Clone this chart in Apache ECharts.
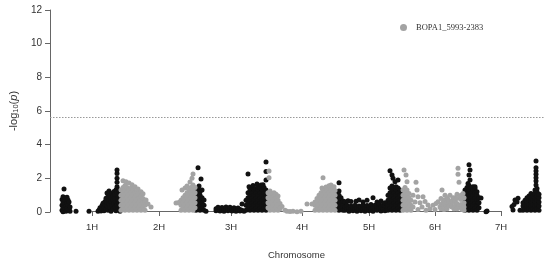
<!DOCTYPE html>
<html>
<head>
<meta charset="UTF-8">
<title>Manhattan plot</title>
<script src="https://cdn.jsdelivr.net/npm/echarts@6/dist/echarts.min.js"></script>
<style>
  html, body { margin: 0; padding: 0; background: #fff; }
  #main { width: 550px; height: 265px; }
</style>
</head>
<body>
<div id="main"></div>
<script>
// cumulative genome position of each chromosome tick
var chrTicks = [42, 109, 181, 252, 319, 385, 451];
var chrNames = ['1H', '2H', '3H', '4H', '5H', '6H', '7H'];
var threshold = 5.6;
var markerName = 'BOPA1_5993-2383';

// each row: [position, -log10(p) values at that position...]
var blackCols = [
  [12,0.1,0.4,0.75],[13,0.02,0.25,0.55,0.9],[14,0.08,0.38,0.7,1.37],[15,0.2,0.5,0.85],
  [16,0.05,0.35,0.68],[17,0.22,0.52,0.88],[18,0.1,0.42,0.72],[19,0.15,0.6],[20,0.05,0.3],
  [26,0.05],[39,0.05],
  [48,0.04],[49,0.12],[50,0.25],[51,0.06],[52,0.18,0.38],[53,0.52],[54,0.08,0.3],[55,0.44,0.62],
  [56,0.2,0.82],[57,0.36,0.58,1.13],[58,0.1,0.92],[59,0.48,0.74,1.25],[60,0.26,1.02],
  [61,0.05,0.6,0.86],[62,0.4,1.12],[63,0.18,0.7,0.95],[64,0.52,1.22],[65,0.3,0.82,1.05],
  [66,0.08,0.62,1.32],[67,0.42,1.18,1.5,1.76,2.0,2.28,2.5],[68,0.2,0.74,0.98],[69,0.55,1.3],
  [70,0.04,0.32,0.86,1.1],
  [146,0.1,0.4,0.7,1.0,1.25],[148,0.25,0.55,0.85,1.15,1.38,2.63],[149,1.55],[150,0.1,0.4,0.7,1.0,1.2],
  [151,1.96],[152,0.25,0.55,0.85,1.3],[154,0.1,0.4,0.71],[156,0.05],
  [166,0.08,0.2],[168,0.15,0.28],[170,0.06,0.22],[172,0.12,0.26],[174,0.05,0.2],[176,0.14,0.3],
  [178,0.08,0.22],[180,0.16,0.28],[182,0.06,0.2],[184,0.12,0.25],[186,0.05,0.18],[188,0.1,0.24],
  [190,0.06,0.15],[192,0.1,0.47],[194,0.05],
  [196,0.1,0.4,0.7],[198,0.25,0.55,0.85,1.15,2.26],[199,1.5],[200,0.1,0.4,0.7,1.0,1.3],
  [202,0.25,0.55,0.85,1.15,1.42],[203,1.58],[204,0.1,0.4,0.7,1.0,1.3],[206,0.25,0.55,0.85,1.15,1.4],
  [207,1.66],[208,0.1,0.4,0.7,1.0,1.3,1.5],[210,0.25,0.55,0.85,1.15,1.42],[211,1.6],
  [212,0.1,0.4,0.7,1.0,1.3],[213,1.62],[214,0.25,0.55,0.85,1.15,1.45],[216,0.1,0.4,0.7,1.0,1.3,1.9,2.4,2.97],
  [287,0.25,0.55,0.85,1.15],[289,0.1,0.4,0.7,1.0,1.25,1.74],[291,0.25,0.55,0.85],[293,0.1,0.4,0.65],
  [295,0.1,0.3,0.61],[297,0.2,0.4],[298,0.67],[299,0.05,0.25],[301,0.15,0.35,0.62],[303,0.08,0.28],
  [305,0.18,0.4],[306,0.64],[307,0.05,0.25],[309,0.15,0.35,0.71],[311,0.08,0.3],[313,0.2,0.42,0.6],
  [315,0.05,0.25],[317,0.15,0.38,0.7],[319,0.08,0.3],[321,0.2,0.45],[323,0.05,0.28,0.85],[325,0.15,0.4],
  [327,0.1,0.32,0.6],[329,0.22,0.48],[331,0.06,0.3,0.66],[333,0.18,0.42],[335,0.08,0.35,0.55],[337,0.2,0.5],
  [338,0.1,0.4,0.7,1.0],[340,0.25,0.55,0.85,1.15,1.42,2.45],[342,0.1,0.4,0.7,1.0,1.3,1.55,2.2],[343,2.0],
  [344,0.25,0.55,0.85,1.15,1.45],[345,1.8],[346,0.1,0.4,0.7,1.0,1.3,1.5],[348,0.25,0.55,0.85,1.15,1.42,1.9],
  [350,0.1,0.4,0.7,1.0,1.3],[352,0.25,0.55,0.85,1.15],
  [415,0.1,0.4,0.7,1.0,1.3],[417,0.25,0.55,0.85,1.15,1.45],[418,1.7],[419,0.1,0.4,0.7,1.0,1.3,1.58,2.2,2.8],
  [420,1.9,2.5],[421,0.25,0.55,0.85,1.15,1.45],[423,0.1,0.4,0.7,1.0,1.3,1.5],[425,0.25,0.55,0.85,1.15,1.4,1.5],
  [427,0.1,0.4,0.7,1.0,1.2],[428,0.53],[429,0.25,0.55,0.85],[431,0.83],[436,0.02],[437,0.06],
  [462,0.32],[463,0.12],[464,0.45],[465,0.71],[467,0.6],[468,0.81],[470,0.1],[473,0.1,0.35,0.55],
  [475,0.2,0.45,0.7],[477,0.1,0.35,0.6,0.85],[479,0.2,0.45,0.7,0.95],[481,0.1,0.35,0.6,0.85,1.1],
  [483,0.2,0.45,0.7,0.95],[485,0.1,0.35,0.6,0.85,1.1,1.3],[486,1.6,1.84,2.04,2.24,2.43,2.63,3.03],
  [487,0.2,0.45,0.7,0.95,1.2,1.4],[489,0.1,0.35,0.6,0.85,1.05]
];

var greyCols = [
  [71,0.1,0.4,0.7,1.0,1.3],[73,0.25,0.55,0.85,1.15,1.45,1.86],[75,0.1,0.4,0.7,1.0,1.3,1.58],[76,1.8],
  [77,0.25,0.55,0.85,1.15,1.45],[79,0.1,0.4,0.7,1.0,1.3,1.72],[81,0.25,0.55,0.85,1.15,1.42],[82,1.62],
  [83,0.1,0.4,0.7,1.0,1.3],[85,0.25,0.55,0.85,1.15,1.5],[87,0.1,0.4,0.7,1.0,1.25],[88,1.37],
  [89,0.25,0.55,0.85,1.05],[91,0.1,0.4,0.7,0.9,1.2],[93,0.25,0.55,0.8,1.08],[95,0.1,0.4,0.6],
  [96,0.72],[98,0.48],[101,0.3],
  [126,0.53],[128,0.55],[130,0.6],[131,0.1,0.4,0.7],[132,1.3],[133,0.25,0.55,0.85],[135,0.1,0.4,0.7,1.0,1.42],
  [137,0.25,0.55,0.85,1.15,1.54],[139,0.1,0.4,0.7,1.0,1.3],[140,1.78],[141,0.25,0.55,0.85,1.15,1.45],
  [142,2.0],[143,0.1,0.4,0.7,1.0,1.3,1.6,2.26],[145,0.25,0.55,0.85,1.15,1.45],
  [218,0.25,0.55,0.85,1.15],[219,2.04,2.44],[220,0.1,0.4,0.7,1.0,1.25],[222,0.25,0.55,0.85,1.1],
  [224,0.1,0.4,0.7,1.0,1.15],[226,0.25,0.55,0.85,1.05],[228,0.1,0.4,0.7,0.95],[230,0.2,0.5],
  [232,0.32],[235,0.1],[237,0.05],[240,0.03],[243,0.05],[247,0.02],[251,0.04],[257,0.48],[262,0.48],
  [265,0.1,0.4,0.6],[267,0.25,0.55,0.8],[269,0.1,0.4,0.7,1.0],[271,0.25,0.55,0.85,1.15],[272,1.42],
  [273,0.1,0.4,0.7,1.0,1.28,2.04],[275,0.25,0.55,0.85,1.15],[276,1.48],[277,0.1,0.4,0.7,1.0,1.3],
  [279,0.25,0.55,0.85,1.15,1.4,1.56],[281,0.1,0.4,0.7,1.0,1.3,1.6],[283,0.25,0.55,0.85,1.15,1.38],
  [284,1.5],[285,0.1,0.4,0.7,1.0,1.28],
  [353,0.1,0.4,0.7,1.0,1.3],[354,2.5],[355,0.25,0.55,0.85,1.15,1.45],[356,2.2],[357,0.1,0.4,0.7,1.0,1.3,1.8],
  [359,0.25,0.55,0.85,1.1],[361,0.1,0.4,0.7],
  [363,0.3,1.0],[365,0.6],[366,1.77],[367,1.3],[368,0.15,0.9],[370,0.55],[372,0.3],[373,0.9],[375,0.62],
  [376,0.1],[378,0.42],[380,0.2],[383,0.4],[385,0.15],[386,0.5],[388,0.61],[390,0.3],[391,0.2,0.45,0.8],
  [392,1.3],[393,0.55],[394,0.15,0.4,0.7],[395,1.0],[396,0.3],[397,0.2,0.55,0.85],[398,0.75],[399,0.35,0.6],
  [400,1.0],[401,0.45],[402,0.3,0.65],[403,0.85],[404,0.2],[405,0.35,0.6,0.85],[407,0.2,0.5,0.8,1.05],
  [408,2.24,2.6],[409,0.35,1.76],[410,0.9],[411,0.25,0.45,0.75,1.0],[412,0.15],[413,0.4,1.1],
  [414,0.1,0.3,0.55,0.85]
];

function toPoints(cols) {
  var out = [];
  cols.forEach(function (c) {
    for (var i = 1; i < c.length; i++) out.push([c[0], c[i]]);
  });
  return out;
}

var myChart = echarts.init(document.getElementById('main'));
var axisColor = '#666';
var textColor = '#333';
var option = {
  animation: false,
  backgroundColor: '#fff',
  textStyle: { fontFamily: 'Liberation Sans, Arial, sans-serif' },
  legend: {
    data: [markerName],
    left: 395,
    top: 18,
    icon: 'circle',
    itemWidth: 7,
    itemHeight: 7,
    textStyle: { fontFamily: 'Liberation Serif, Times New Roman, serif', fontSize: 8.5, color: textColor, padding: [0, 0, 0, 4] }
  },
  grid: [
    { left: 50, right: 5, top: 10, bottom: 53 },
    { left: 92, right: 49, top: 10, bottom: 53 }
  ],
  xAxis: [
    { gridIndex: 0, type: 'value', min: 0, max: 495, show: false },
    {
      gridIndex: 1, type: 'value', min: 42, max: 451, offset: 1,
      axisLine: { lineStyle: { color: axisColor } },
      axisTick: { customValues: chrTicks, length: 5, lineStyle: { color: axisColor } },
      axisLabel: {
        customValues: chrTicks, color: textColor, fontSize: 9.5, margin: 10,
        formatter: function (v) { return chrNames[chrTicks.indexOf(v)]; }
      },
      splitLine: { show: false },
      name: 'Chromosome', nameLocation: 'middle', nameGap: 38,
      nameTextStyle: { color: textColor, fontSize: 9.5 }
    }
  ],
  yAxis: [
    {
      gridIndex: 0, type: 'value', min: 0, max: 12, interval: 2,
      axisLine: { show: true, lineStyle: { color: axisColor } },
      axisTick: { show: true, length: 5, lineStyle: { color: axisColor } },
      axisLabel: { color: textColor, fontSize: 10, margin: 8 },
      splitLine: { show: false },
      name: '{a|-log}{b|10}{a|(}{c|p}{a|)}',
      nameLocation: 'middle', nameGap: 30, nameRotate: 90,
      nameTextStyle: {
        color: textColor,
        rich: {
          a: { fontSize: 11, color: textColor },
          b: { fontSize: 7.5, color: textColor, padding: [5, 0, 0, 0] },
          c: { fontSize: 11, color: textColor, fontStyle: 'italic' }
        }
      }
    },
    { gridIndex: 1, type: 'value', min: 0, max: 12, show: false }
  ],
  series: [
    {
      name: 'chr', type: 'scatter', xAxisIndex: 0, yAxisIndex: 0,
      symbolSize: 5, itemStyle: { color: '#111', opacity: 1 },
      data: toPoints(blackCols),
      markLine: {
        silent: true, symbol: ['none', 'none'], label: { show: false },
        lineStyle: { color: '#999', width: 1, type: [1.5, 1.5] },
        data: [{ yAxis: threshold }]
      }
    },
    {
      name: markerName, type: 'scatter', xAxisIndex: 0, yAxisIndex: 0,
      symbolSize: 5, itemStyle: { color: '#a3a3a3', opacity: 1 },
      data: toPoints(greyCols)
    }
  ]
};
myChart.setOption(option);
</script>
</body>
</html>
